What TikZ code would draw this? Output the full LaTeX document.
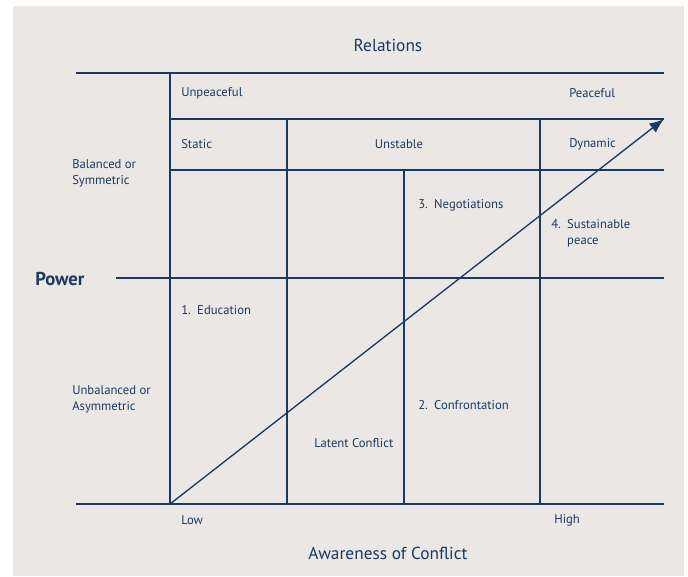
\documentclass[tikz,border=0pt]{standalone}
\usepackage{fontspec}
\setmainfont{PT Sans}
\usetikzlibrary{arrows.meta}
\definecolor{navy}{HTML}{1D3961}
\definecolor{paper}{HTML}{EAE7E4}

\begin{document}
\begin{tikzpicture}[x=0.75pt,y=-0.75pt,
  grid/.style={navy, line width=1pt},
  lbl/.style={text=navy, font=\fontsize{9.5}{12}\selectfont, inner sep=0pt, anchor=west, align=left},
  heading/.style={text=navy, font=\fontsize{13}{15}\selectfont, inner sep=0pt}]

\useasboundingbox (0,0) rectangle (688,576);
\fill [white] (0,0) rectangle (688,576);
\fill [paper] (13,6) rectangle (684,576);

% horizontal lines
\draw [grid] (76,73) -- (664,73);
\draw [grid] (170,119) -- (664,119);
\draw [grid] (170,170) -- (664,170);
\draw [grid] (116,278) -- (664,278);
\draw [grid] (76,504) -- (664,504);

% vertical lines
\draw [grid] (170,73) -- (170,504);
\draw [grid] (287,119) -- (287,504);
\draw [grid] (404,170) -- (404,504);
\draw [grid] (540,119) -- (540,504);

\coordinate (low) at (170,504);
\coordinate (peak) at (664,119);
\draw [grid, -{Latex[length=11pt, width=8.5pt]}] (low) -- (peak);

\node [heading] (relations) at (388,45) {Relations};
\node [heading] (awareness) at (388,553) {Awareness of Conflict};
\node [text=navy, font=\fontsize{14}{16}\selectfont\bfseries, inner sep=0pt, anchor=west] (power) at (35,279) {Power};

\node [lbl] (unpeaceful) at (181,93) {Unpeaceful};
\node [lbl] (peaceful) at (569,93) {Peaceful};
\node [lbl] (static) at (181,144) {Static};
\node [lbl, anchor=center] (unstable) at (399,144) {Unstable};
\node [lbl] (dynamic) at (569,144) {Dynamic};

\node [lbl] (balanced) at (72,173) {Balanced or\\Symmetric};
\node [lbl] (unbalanced) at (72,399) {Unbalanced or\\Asymmetric};

\node [lbl] (negotiations) at (418,205) {3.\enspace Negotiations};
\node [lbl] (sustainable) at (551,233) {4.\enspace Sustainable\\\phantom{4.\enspace}peace};
\node [lbl] (education) at (181,310) {1.\enspace Education};
\node [lbl] (confrontation) at (418,405) {2.\enspace Confrontation};
\node [lbl] (latent) at (314,443) {Latent Conflict};

\node [lbl] (lowlbl) at (181,520) {Low};
\node [lbl] (highlbl) at (554,520) {High};

\end{tikzpicture}
\end{document}
